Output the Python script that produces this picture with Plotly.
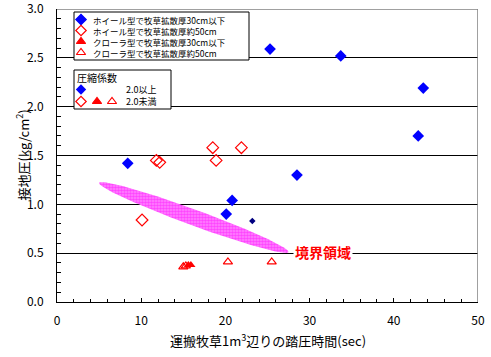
import numpy as np
import plotly.graph_objects as go

# ---------------- data ----------------
wheel30_x = [8.4, 25.3, 33.7, 43.5, 42.9, 28.5, 20.8, 20.1]
wheel30_y = [1.42, 2.59, 2.52, 2.19, 1.70, 1.30, 1.04, 0.90]
wheel30_small_x = [23.2]
wheel30_small_y = [0.83]
wheel50_x = [11.8, 12.2, 18.5, 18.9, 21.9, 10.1]
wheel50_y = [1.45, 1.43, 1.58, 1.45, 1.58, 0.84]
crawler30_x = [15.6, 15.9]
crawler30_y = [0.38, 0.38]
crawler50_x = [15.0, 15.3, 20.3, 25.5]
crawler50_y = [0.36, 0.37, 0.41, 0.41]

region_end_x = [5.0, 27.5]
region_end_y = [1.22, 0.51]
region_minor = (0.33, 0.077)
region_label = "境界領域"

y_ticks = [0.0, 0.5, 1.0, 1.5, 2.0, 2.5, 3.0]
x_ticks = [0, 10, 20, 30, 40, 50]

legend1_labels = ["ホイール型で牧草拡散厚30cm以下", "ホイール型で牧草拡散厚約50cm",
                  "クローラ型で牧草拡散厚30cm以下", "クローラ型で牧草拡散厚約50cm"]
legend2_title = "圧縮係数"
legend2_labels = ["2.0以上", "2.0未満"]

x_title = "運搬牧草1m<sup>3</sup>辺りの踏圧時間(sec)"
y_title = "接地圧(kg/cm<sup>2</sup>)"

FONT = "Noto Sans CJK JP"
BLUE = "#0000FF"
RED = "#FF0000"

fig = go.Figure()

# boundary region (ellipse)
cx = (region_end_x[0] + region_end_x[1]) / 2
cy = (region_end_y[0] + region_end_y[1]) / 2
ax_ = (region_end_x[1] - region_end_x[0]) / 2
ay_ = (region_end_y[1] - region_end_y[0]) / 2
t = np.linspace(0, 2 * np.pi, 200)
ex = cx + ax_ * np.cos(t) + region_minor[0] * np.sin(t)
ey = cy + ay_ * np.cos(t) + region_minor[1] * np.sin(t)
fig.add_trace(go.Scatter(x=ex, y=ey, mode="lines", fill="toself",
                         line=dict(width=0, color="#FF00FF"),
                         fillcolor="rgba(0,0,0,0)",
                         fillpattern=dict(shape=".", fgcolor="#FF00FF", bgcolor="#FF88FF",
                                          size=3, solidity=0.6),
                         hoverinfo="skip"))

fig.add_trace(go.Scatter(x=wheel30_x, y=wheel30_y, mode="markers",
                         marker=dict(symbol="diamond", size=9, color=BLUE)))
fig.add_trace(go.Scatter(x=wheel30_small_x, y=wheel30_small_y, mode="markers",
                         marker=dict(symbol="diamond", size=5, color="#000080")))
fig.add_trace(go.Scatter(x=wheel50_x, y=wheel50_y, mode="markers",
                         marker=dict(symbol="diamond-open", size=9, color=RED,
                                     line=dict(width=1.2, color=RED))))
fig.add_trace(go.Scatter(x=crawler50_x, y=crawler50_y, mode="markers",
                         marker=dict(symbol="triangle-up-open", size=8, color=RED,
                                     line=dict(width=1.2, color=RED))))
fig.add_trace(go.Scatter(x=crawler30_x, y=crawler30_y, mode="markers",
                         marker=dict(symbol="triangle-up", size=8, color=RED)))

# ---------- overlay pixel axis for legend boxes ----------
def box(x0, x1, y0, y1):
    fig.add_trace(go.Scatter(x=[x0, x1, x1, x0, x0], y=[y0, y0, y1, y1, y0],
                             mode="lines", fill="toself", fillcolor="white",
                             line=dict(color="black", width=1),
                             xaxis="x2", yaxis="y2", hoverinfo="skip"))

box(74, 249, 12, 60)
box(74, 171, 70, 109)

leg_sym = ["diamond", "diamond-open", "triangle-up", "triangle-up-open"]
leg_col = [BLUE, RED, RED, RED]
leg_y = [19.5, 30.5, 41.5, 52.5]
for s, c, yy, lab in zip(leg_sym, leg_col, leg_y, legend1_labels):
    fig.add_trace(go.Scatter(x=[81], y=[yy], mode="markers", xaxis="x2", yaxis="y2",
                             marker=dict(symbol=s, size=8, color=c, line=dict(width=1.2, color=c))))
    fig.add_annotation(x=91, y=yy, xref="x2", yref="y2", text=lab, showarrow=False,
                       xanchor="left", yanchor="middle", font=dict(family=FONT, size=8.5, color="black"))

fig.add_annotation(x=75, y=77, xref="x2", yref="y2", text=legend2_title, showarrow=False,
                   xanchor="left", yanchor="middle", font=dict(family=FONT, size=10, color="black"))
fig.add_trace(go.Scatter(x=[81], y=[89.5], mode="markers", xaxis="x2", yaxis="y2",
                         marker=dict(symbol="diamond", size=8, color=BLUE)))
fig.add_trace(go.Scatter(x=[81, 97, 112], y=[101.5, 101.5, 101.5], mode="markers",
                         xaxis="x2", yaxis="y2",
                         marker=dict(symbol=["diamond-open", "triangle-up", "triangle-up-open"],
                                     size=8, color=RED, line=dict(width=1.2, color=RED))))
fig.add_annotation(x=124, y=89.5, xref="x2", yref="y2", text=legend2_labels[0], showarrow=False,
                   xanchor="left", yanchor="middle", font=dict(family=FONT, size=9, color="black"))
fig.add_annotation(x=124, y=101.5, xref="x2", yref="y2", text=legend2_labels[1], showarrow=False,
                   xanchor="left", yanchor="middle", font=dict(family=FONT, size=9, color="black"))

# region label
fig.add_annotation(x=31.6, y=0.51, xref="x", yref="y", text="<b>" + region_label + "</b>",
                   showarrow=False, bgcolor="white", borderpad=1,
                   font=dict(family=FONT, size=14, color=RED))

# axis titles
fig.add_annotation(x=0, y=0.5, xref="paper", yref="paper", xshift=-35, text=y_title,
                   xanchor="center", yanchor="middle",
                   textangle=-90, showarrow=False, font=dict(family=FONT, size=13, color="black"))
fig.add_annotation(x=0.5, y=0, xref="paper", yref="paper", yshift=-38, text=x_title,
                   xanchor="center", yanchor="middle",
                   showarrow=False, font=dict(family=FONT, size=13, color="black"))

# frame top/right (gray)
fig.add_shape(type="line", xref="x", yref="y", x0=0, x1=50, y0=3, y1=3,
              line=dict(color="#808080", width=1.5), layer="above")
fig.add_shape(type="line", xref="x", yref="y", x0=50, x1=50, y0=0, y1=3,
              line=dict(color="#808080", width=1.5), layer="above")

fig.update_layout(
    width=491, height=357, margin=dict(l=57, r=13, t=9, b=55, autoexpand=False),
    plot_bgcolor="white", paper_bgcolor="white", showlegend=False,
    xaxis=dict(range=[0, 50], tickmode="array", tickvals=x_ticks, ticks="inside", ticklen=4,
               tickcolor="black", automargin=False,
               minor=dict(dtick=2, ticks="inside", ticklen=3, tickcolor="black"),
               showline=True, linecolor="black", linewidth=1, showgrid=False, zeroline=False,
               ticklabelstandoff=8, ticklabeloverflow="allow",
               tickfont=dict(family=FONT, size=12, color="black")),
    yaxis=dict(range=[0, 3], tickmode="array", tickvals=y_ticks,
               ticktext=[f"{v:.1f}" for v in y_ticks], ticks="inside", ticklen=7,
               tickcolor="black", automargin=False,
               minor=dict(dtick=0.1, ticks="inside", ticklen=4, tickcolor="black"),
               showline=True, linecolor="black", linewidth=1, showgrid=True,
               gridcolor="black", gridwidth=1, zeroline=False,
               ticklabelstandoff=10, ticklabeloverflow="allow",
               tickfont=dict(family=FONT, size=12, color="black")),
    xaxis2=dict(overlaying="x", anchor="y2", range=[57, 478], visible=False, fixedrange=True,
                automargin=False),
    yaxis2=dict(overlaying="y", anchor="x2", range=[302, 9], visible=False, fixedrange=True,
                automargin=False),
)

fig.write_html("out.html", config={"displayModeBar": False},
               post_script="document.body.style.margin='0';")
